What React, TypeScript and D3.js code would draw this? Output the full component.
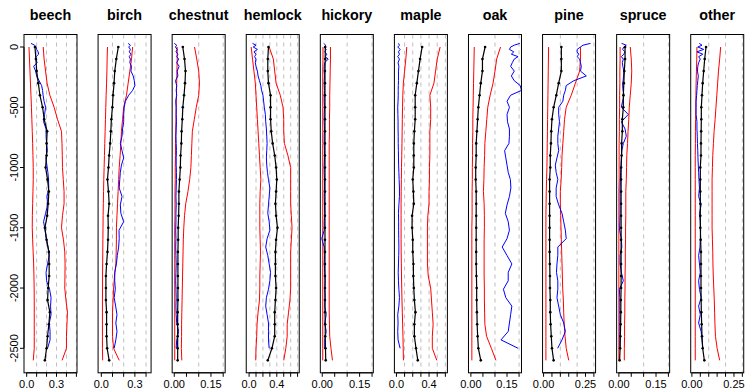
import React from "react";
import * as d3 from "d3";

const taxa = ["beech", "birch", "chestnut", "hemlock", "hickory", "maple", "oak", "pine", "spruce", "other"];

const modelDepths = [0, -100, -200, -300, -400, -500, -600, -700, -800, -900, -1000, -1100, -1200, -1300, -1400, -1500, -1600, -1700, -1800, -1900, -2000, -2100, -2200, -2300, -2400, -2500, -2600];
const obsDepths = [30, 15, 0, -20, -40, -60, -80, -100, -130, -160, -200, -240, -280, -320, -360, -400, -450, -500, -560, -620, -680, -740, -800, -860, -920, -980, -1040, -1100, -1170, -1240, -1310, -1380, -1450, -1520, -1590, -1660, -1730, -1800, -1870, -1940, -2010, -2080, -2150, -2220, -2290, -2360, -2430, -2500];
const yTicks = [0, -500, -1000, -1500, -2000, -2500];

const xDomains = [[-0.027, 0.506], [-0.029, 0.445], [-0.0085, 0.208], [-0.041, 0.724], [-0.0077, 0.205], [-0.025, 0.625], [-0.01, 0.21], [-0.006, 0.31], [-0.009, 0.205], [-0.007, 0.308]];
const xTicks = [
  [0, 0.1, 0.2, 0.3, 0.4, 0.5],
  [0, 0.1, 0.2, 0.3, 0.4],
  [0, 0.05, 0.1, 0.15, 0.2],
  [0, 0.1, 0.2, 0.3, 0.4, 0.5, 0.6, 0.7],
  [0, 0.05, 0.1, 0.15, 0.2],
  [0, 0.1, 0.2, 0.3, 0.4, 0.5, 0.6],
  [0, 0.05, 0.1, 0.15, 0.2],
  [0, 0.05, 0.1, 0.15, 0.2, 0.25, 0.3],
  [0, 0.05, 0.1, 0.15, 0.2],
  [0, 0.05, 0.1, 0.15, 0.2, 0.25, 0.3],
];
const xLabelTicks = [[0, 0.3], [0, 0.3], [0, 0.15], [0, 0.4], [0, 0.15], [0, 0.4], [0, 0.15], [0, 0.25], [0, 0.15], [0, 0.25]];
const xLabelDigits = [1, 1, 2, 1, 2, 1, 2, 2, 2, 2];
const gridValues = [0.1, 0.2, 0.3, 0.4, 0.5, 0.6, 0.7];

// posterior mean (black), every 100 units of depth
const meanBeech = [0.083, 0.093, 0.1, 0.117, 0.133, 0.16, 0.176, 0.206, 0.2, 0.2, 0.19, 0.21, 0.223, 0.216, 0.206, 0.183, 0.2, 0.223, 0.226, 0.226, 0.216, 0.21, 0.233, 0.223, 0.21, 0.2, 0.183];
const meanBirch = [0.152, 0.134, 0.12, 0.114, 0.105, 0.099, 0.09, 0.085, 0.079, 0.07, 0.064, 0.055, 0.064, 0.07, 0.06, 0.062, 0.06, 0.055, 0.047, 0.041, 0.041, 0.041, 0.047, 0.047, 0.047, 0.052, 0.07];
const meanChestnut = [0.035, 0.042, 0.046, 0.044, 0.04, 0.035, 0.033, 0.03, 0.029, 0.026, 0.025, 0.022, 0.019, 0.019, 0.018, 0.016, 0.016, 0.015, 0.015, 0.015, 0.015, 0.015, 0.014, 0.014, 0.014, 0.014, 0.014];
const meanHemlock = [0.28, 0.27, 0.27, 0.28, 0.31, 0.31, 0.31, 0.32, 0.34, 0.37, 0.39, 0.4, 0.39, 0.38, 0.39, 0.41, 0.39, 0.38, 0.38, 0.38, 0.39, 0.38, 0.37, 0.37, 0.37, 0.33, 0.27];
const meanHickory = [0.012, 0.012, 0.011, 0.011, 0.011, 0.011, 0.011, 0.011, 0.011, 0.011, 0.011, 0.011, 0.011, 0.011, 0.011, 0.011, 0.011, 0.011, 0.011, 0.011, 0.011, 0.011, 0.011, 0.012, 0.012, 0.013, 0.014];
const meanMaple = [0.315, 0.29, 0.27, 0.25, 0.23, 0.23, 0.23, 0.22, 0.213, 0.213, 0.213, 0.2, 0.208, 0.213, 0.192, 0.192, 0.2, 0.2, 0.208, 0.208, 0.213, 0.22, 0.233, 0.22, 0.22, 0.24, 0.262];
const meanOak = [0.059, 0.048, 0.048, 0.041, 0.036, 0.031, 0.028, 0.025, 0.022, 0.022, 0.02, 0.02, 0.022, 0.022, 0.022, 0.022, 0.022, 0.022, 0.022, 0.023, 0.024, 0.024, 0.025, 0.026, 0.028, 0.031, 0.041];
const meanPine = [0.106, 0.106, 0.106, 0.09, 0.076, 0.06, 0.05, 0.046, 0.044, 0.04, 0.04, 0.036, 0.036, 0.036, 0.036, 0.036, 0.036, 0.036, 0.037, 0.038, 0.038, 0.04, 0.04, 0.042, 0.046, 0.05, 0.06];
const meanSpruce = [0.025, 0.025, 0.022, 0.02, 0.018, 0.018, 0.014, 0.014, 0.011, 0.011, 0.009, 0.009, 0.009, 0.009, 0.009, 0.009, 0.009, 0.009, 0.009, 0.009, 0.009, 0.008, 0.008, 0.007, 0.006, 0.005, 0.003];
const meanOther = [0.084, 0.076, 0.07, 0.064, 0.06, 0.056, 0.056, 0.055, 0.054, 0.054, 0.05, 0.05, 0.05, 0.05, 0.05, 0.05, 0.052, 0.054, 0.054, 0.054, 0.054, 0.055, 0.056, 0.058, 0.06, 0.064, 0.074];

// lower band (red)
const lowBeech = [0.023, 0.028, 0.033, 0.038, 0.043, 0.048, 0.052, 0.056, 0.06, 0.063, 0.066, 0.066, 0.063, 0.06, 0.057, 0.056, 0.06, 0.065, 0.07, 0.073, 0.075, 0.076, 0.076, 0.076, 0.076, 0.076, 0.066];
const lowBirch = [0.055, 0.052, 0.05, 0.047, 0.043, 0.04, 0.037, 0.034, 0.031, 0.028, 0.025, 0.022, 0.02, 0.018, 0.016, 0.015, 0.014, 0.013, 0.012, 0.011, 0.011, 0.01, 0.01, 0.01, 0.01, 0.01, 0.012];
const lowChestnut = [0.012, 0.012, 0.011, 0.01, 0.009, 0.008, 0.007, 0.006, 0.005, 0.005, 0.004, 0.004, 0.003, 0.003, 0.003, 0.002, 0.002, 0.002, 0.002, 0.002, 0.002, 0.002, 0.002, 0.002, 0.002, 0.002, 0.002];
const lowHemlock = [0.03, 0.05, 0.07, 0.09, 0.1, 0.11, 0.12, 0.13, 0.14, 0.15, 0.16, 0.17, 0.16, 0.155, 0.155, 0.155, 0.16, 0.165, 0.16, 0.155, 0.155, 0.15, 0.13, 0.115, 0.11, 0.1, 0.096];
const lowHickory = [0.003, 0.003, 0.002, 0.002, 0.002, 0.002, 0.002, 0.002, 0.002, 0.002, 0.002, 0.002, 0.002, 0.002, 0.002, 0.002, 0.002, 0.002, 0.002, 0.002, 0.002, 0.002, 0.002, 0.002, 0.002, 0.002, 0.002];
const lowMaple = [0.127, 0.115, 0.1, 0.085, 0.078, 0.075, 0.072, 0.07, 0.068, 0.065, 0.062, 0.06, 0.058, 0.057, 0.057, 0.057, 0.057, 0.058, 0.06, 0.062, 0.065, 0.068, 0.072, 0.076, 0.08, 0.083, 0.086];
const lowOak = [0.014, 0.013, 0.012, 0.011, 0.01, 0.009, 0.008, 0.008, 0.007, 0.007, 0.006, 0.006, 0.005, 0.005, 0.005, 0.004, 0.004, 0.004, 0.004, 0.004, 0.004, 0.004, 0.004, 0.004, 0.004, 0.004, 0.004];
const lowPine = [0.03, 0.029, 0.028, 0.027, 0.026, 0.025, 0.024, 0.023, 0.022, 0.021, 0.02, 0.018, 0.016, 0.015, 0.014, 0.014, 0.014, 0.014, 0.014, 0.014, 0.014, 0.014, 0.014, 0.014, 0.014, 0.014, 0.014];
const lowSpruce = [0.005, 0.005, 0.004, 0.004, 0.003, 0.003, 0.002, 0.002, 0.001, 0.001, 0.001, 0.001, 0.0, 0.0, 0.0, 0.0, 0.0, 0.0, 0.0, 0.0, 0.0, 0.0, 0.0, 0.0, 0.0, 0.0, 0.0];
const lowOther = [0.03, 0.029, 0.027, 0.025, 0.024, 0.023, 0.022, 0.021, 0.021, 0.02, 0.02, 0.02, 0.02, 0.02, 0.02, 0.02, 0.02, 0.02, 0.02, 0.02, 0.02, 0.02, 0.02, 0.02, 0.02, 0.02, 0.02];

// upper band (red)
const highBeech = [0.166, 0.175, 0.19, 0.205, 0.233, 0.276, 0.31, 0.35, 0.355, 0.358, 0.36, 0.368, 0.376, 0.376, 0.36, 0.35, 0.37, 0.383, 0.386, 0.385, 0.383, 0.395, 0.41, 0.405, 0.4, 0.4, 0.356];
const highBirch = [0.28, 0.27, 0.255, 0.24, 0.225, 0.2, 0.19, 0.18, 0.175, 0.168, 0.16, 0.155, 0.15, 0.145, 0.14, 0.135, 0.135, 0.133, 0.13, 0.118, 0.11, 0.105, 0.1, 0.1, 0.1, 0.11, 0.16];
const highChestnut = [0.083, 0.092, 0.1, 0.103, 0.1, 0.09, 0.082, 0.074, 0.072, 0.07, 0.068, 0.063, 0.056, 0.047, 0.042, 0.039, 0.037, 0.036, 0.035, 0.034, 0.033, 0.032, 0.031, 0.03, 0.03, 0.029, 0.031];
const highHemlock = [0.29, 0.35, 0.37, 0.39, 0.45, 0.49, 0.5, 0.5, 0.51, 0.56, 0.6, 0.6, 0.6, 0.6, 0.61, 0.62, 0.61, 0.6, 0.6, 0.6, 0.6, 0.59, 0.57, 0.55, 0.55, 0.53, 0.5];
const highHickory = [0.033, 0.033, 0.032, 0.031, 0.03, 0.03, 0.029, 0.029, 0.028, 0.028, 0.028, 0.028, 0.028, 0.028, 0.028, 0.028, 0.028, 0.028, 0.028, 0.028, 0.028, 0.028, 0.028, 0.029, 0.03, 0.035, 0.041];
const highMaple = [0.536, 0.5, 0.48, 0.46, 0.41, 0.42, 0.42, 0.41, 0.41, 0.41, 0.405, 0.405, 0.4, 0.4, 0.385, 0.38, 0.38, 0.38, 0.38, 0.39, 0.42, 0.43, 0.44, 0.45, 0.44, 0.44, 0.495];
const highOak = [0.123, 0.107, 0.1, 0.092, 0.08, 0.07, 0.066, 0.062, 0.058, 0.057, 0.055, 0.054, 0.052, 0.055, 0.056, 0.056, 0.055, 0.055, 0.055, 0.055, 0.056, 0.056, 0.057, 0.058, 0.065, 0.085, 0.104];
const highPine = [0.22, 0.22, 0.215, 0.19, 0.165, 0.135, 0.125, 0.12, 0.115, 0.11, 0.108, 0.105, 0.1, 0.1, 0.102, 0.104, 0.106, 0.108, 0.11, 0.112, 0.114, 0.118, 0.12, 0.123, 0.128, 0.135, 0.15];
const highSpruce = [0.046, 0.05, 0.052, 0.05, 0.046, 0.042, 0.04, 0.037, 0.035, 0.032, 0.031, 0.03, 0.028, 0.028, 0.028, 0.027, 0.027, 0.026, 0.026, 0.025, 0.025, 0.024, 0.024, 0.023, 0.023, 0.022, 0.022];
const highOther = [0.171, 0.165, 0.158, 0.153, 0.148, 0.143, 0.138, 0.132, 0.128, 0.124, 0.122, 0.12, 0.12, 0.12, 0.12, 0.12, 0.122, 0.124, 0.125, 0.127, 0.13, 0.133, 0.135, 0.137, 0.14, 0.15, 0.165];

// observed proportions (blue)
const obsBeech = [0.043, 0.08, 0.095, 0.1, 0.115, 0.12, 0.095, 0.09, 0.105, 0.07, 0.09, 0.1, 0.125, 0.15, 0.16, 0.165, 0.175, 0.19, 0.18, 0.17, 0.195, 0.195, 0.2, 0.208, 0.193, 0.203, 0.213, 0.22, 0.222, 0.205, 0.21, 0.19, 0.17, 0.185, 0.197, 0.215, 0.228, 0.21, 0.195, 0.2, 0.23, 0.245, 0.24, 0.245, 0.228, 0.235, 0.235, 0.21];
const obsBirch = [0.24, 0.26, 0.245, 0.26, 0.25, 0.265, 0.25, 0.26, 0.255, 0.27, 0.265, 0.285, 0.295, 0.3, 0.28, 0.245, 0.215, 0.205, 0.2, 0.2, 0.19, 0.185, 0.17, 0.185, 0.2, 0.18, 0.17, 0.165, 0.16, 0.185, 0.17, 0.175, 0.2, 0.158, 0.16, 0.155, 0.143, 0.135, 0.12, 0.12, 0.125, 0.115, 0.128, 0.14, 0.13, 0.14, 0.13, 0.115];
const obsChestnut = [0.0, 0.01, 0.005, 0.012, 0.007, 0.015, 0.01, 0.018, 0.01, 0.02, 0.012, 0.015, 0.005, 0.01, 0.008, 0.01, 0.006, 0.008, 0.008, 0.009, 0.008, 0.007, 0.008, 0.009, 0.008, 0.008, 0.009, 0.009, 0.008, 0.007, 0.008, 0.007, 0.007, 0.006, 0.007, 0.006, 0.007, 0.008, 0.007, 0.006, 0.007, 0.008, 0.007, 0.008, 0.01, 0.018, 0.01, 0.008];
const obsHemlock = [0.05, 0.1, 0.06, 0.12, 0.07, 0.1, 0.08, 0.1, 0.09, 0.1, 0.12, 0.13, 0.15, 0.17, 0.18, 0.2, 0.21, 0.22, 0.235, 0.24, 0.25, 0.255, 0.26, 0.255, 0.25, 0.255, 0.265, 0.28, 0.3, 0.29, 0.28, 0.27, 0.29, 0.3, 0.26, 0.24, 0.27, 0.29, 0.31, 0.3, 0.28, 0.25, 0.24, 0.26, 0.28, 0.28, 0.28, 0.29];
const obsHickory = [0.006, 0.014, 0.008, 0.016, 0.01, 0.018, 0.012, 0.024, 0.01, 0.008, 0.008, 0.009, 0.008, 0.008, 0.009, 0.008, 0.008, 0.009, 0.008, 0.008, 0.009, 0.008, 0.008, 0.009, 0.009, 0.008, 0.008, 0.009, 0.009, 0.008, 0.009, 0.01, 0.008, 0.008, -0.002, 0.008, 0.009, 0.008, 0.01, 0.012, 0.01, 0.012, 0.01, 0.016, 0.01, 0.016, 0.01, 0.01];
const obsMaple = [0.025, 0.037, 0.016, 0.045, 0.025, 0.037, 0.016, 0.037, 0.02, 0.03, 0.025, 0.025, 0.025, 0.023, 0.022, 0.022, 0.02, 0.016, 0.018, 0.02, 0.02, 0.022, 0.022, 0.024, 0.025, 0.027, 0.03, 0.033, 0.037, 0.037, 0.03, 0.025, 0.027, 0.027, 0.028, 0.03, 0.028, 0.025, 0.022, 0.025, 0.03, 0.037, 0.03, 0.016, 0.02, 0.016, 0.02, 0.045];
const obsOak = [0.203, 0.18, 0.165, 0.16, 0.178, 0.168, 0.196, 0.18, 0.172, 0.165, 0.18, 0.168, 0.18, 0.205, 0.21, 0.165, 0.15, 0.16, 0.15, 0.152, 0.16, 0.16, 0.158, 0.14, 0.145, 0.15, 0.155, 0.164, 0.166, 0.16, 0.15, 0.143, 0.155, 0.16, 0.15, 0.13, 0.15, 0.17, 0.155, 0.155, 0.135, 0.145, 0.17, 0.165, 0.16, 0.155, 0.125, 0.196];
const obsPine = [0.28, 0.235, 0.22, 0.2, 0.2, 0.21, 0.2, 0.215, 0.22, 0.225, 0.22, 0.255, 0.18, 0.135, 0.13, 0.12, 0.115, 0.09, 0.09, 0.095, 0.09, 0.085, 0.085, 0.09, 0.08, 0.07, 0.075, 0.085, 0.075, 0.075, 0.09, 0.11, 0.12, 0.13, 0.135, 0.085, 0.085, 0.08, 0.077, 0.085, 0.085, 0.08, 0.09, 0.1, 0.12, 0.13, 0.11, 0.084];
const obsSpruce = [0.011, 0.03, 0.02, 0.015, 0.025, 0.02, 0.01, 0.018, 0.014, 0.016, 0.02, 0.019, 0.017, 0.015, 0.017, 0.021, 0.015, 0.01, 0.038, 0.01, 0.025, 0.03, 0.018, 0.012, 0.01, 0.009, 0.007, 0.006, 0.005, 0.005, 0.005, 0.005, 0.004, 0.003, 0.01, 0.012, 0.005, 0.005, 0.01, 0.018, 0.002, 0.004, 0.004, 0.004, 0.004, 0.004, 0.004, 0.004];
const obsOther = [0.044, 0.06, 0.035, 0.07, 0.03, 0.065, 0.04, 0.05, 0.04, 0.035, 0.033, 0.038, 0.035, 0.032, 0.03, 0.028, 0.025, 0.025, 0.025, 0.03, 0.03, 0.032, 0.033, 0.035, 0.036, 0.038, 0.04, 0.042, 0.045, 0.04, 0.055, 0.045, 0.05, 0.052, 0.05, 0.048, 0.04, 0.045, 0.05, 0.04, 0.045, 0.055, 0.04, 0.05, 0.04, 0.055, 0.06, 0.065];

const means = [meanBeech, meanBirch, meanChestnut, meanHemlock, meanHickory, meanMaple, meanOak, meanPine, meanSpruce, meanOther];
const lows = [lowBeech, lowBirch, lowChestnut, lowHemlock, lowHickory, lowMaple, lowOak, lowPine, lowSpruce, lowOther];
const highs = [highBeech, highBirch, highChestnut, highHemlock, highHickory, highMaple, highOak, highPine, highSpruce, highOther];
const obs = [obsBeech, obsBirch, obsChestnut, obsHemlock, obsHickory, obsMaple, obsOak, obsPine, obsSpruce, obsOther];

const W = 745;
const H = 390;
const panelLeft = 24;
const panelStep = 74.08;
const panelWidth = 53;
const boxTop = 34.5;
const boxBottom = 372.8;
const FONT = "'Liberation Sans', Arial, Helvetica, sans-serif";

export default function App() {
  const y = d3.scaleLinear().domain([0, -2500]).range([47, 348.3]);

  const panels = taxa.map((name, i) => {
    const x0 = panelLeft + i * panelStep;
    const x = d3.scaleLinear().domain(xDomains[i]).range([x0, x0 + panelWidth]);
    const line = d3.line<[number, number]>().x((d) => x(d[1])).y((d) => y(d[0]));
    const meanPts: [number, number][] = modelDepths.map((dp, k) => [dp, means[i][k]]);
    const lowPts: [number, number][] = modelDepths.map((dp, k) => [dp, lows[i][k]]);
    const highPts: [number, number][] = modelDepths.map((dp, k) => [dp, highs[i][k]]);
    const obsPts: [number, number][] = obsDepths.map((dp, k) => [dp, obs[i][k]]);
    const grid = gridValues.filter((g) => g <= xDomains[i][1] + 1e-9);
    const ticks = xTicks[i];
    const fmt = d3.format("." + xLabelDigits[i] + "f");
    return (
      <g key={name}>
        <text x={x0 + panelWidth / 2} y={20} textAnchor="middle" fontFamily={FONT} fontWeight="bold" fontSize={14.3} fill="#000">{name}</text>
        {grid.map((g) => (
          <line key={"g" + g} x1={x(g)} x2={x(g)} y1={boxTop} y2={boxBottom} stroke="#bebebe" strokeWidth={1} strokeDasharray="4,4" />
        ))}
        <path d={line(lowPts) || ""} fill="none" stroke="#ff0000" strokeWidth={1} />
        <path d={line(highPts) || ""} fill="none" stroke="#ff0000" strokeWidth={1} />
        <path d={line(obsPts) || ""} fill="none" stroke="#0000ff" strokeWidth={1} />
        <path d={line(meanPts) || ""} fill="none" stroke="#000" strokeWidth={1.2} />
        {meanPts.map((d, k) => (
          <circle key={"p" + k} cx={x(d[1])} cy={y(d[0])} r={1.3} fill="#000" />
        ))}
        <rect x={x0} y={boxTop} width={panelWidth} height={boxBottom - boxTop} fill="none" stroke="#000" strokeWidth={1} />
        <line x1={x(ticks[0])} x2={x(ticks[ticks.length - 1])} y1={boxBottom} y2={boxBottom} stroke="#000" strokeWidth={1} />
        {ticks.map((t) => (
          <line key={"t" + t} x1={x(t)} x2={x(t)} y1={boxBottom} y2={boxBottom + 4} stroke="#000" strokeWidth={1} />
        ))}
        {xLabelTicks[i].map((t) => (
          <text key={"l" + t} x={x(t)} y={388} textAnchor="middle" fontFamily={FONT} fontSize={11} fill="#000">{fmt(t)}</text>
        ))}
      </g>
    );
  });

  return (
    <svg width={W} height={H} style={{ position: "absolute", left: 0, top: 0, background: "#fff" }}>
      <rect x={0} y={0} width={W} height={H} fill="#fff" />
      {panels}
      <line x1={panelLeft} x2={panelLeft} y1={y(0)} y2={y(-2500)} stroke="#000" strokeWidth={1} />
      {yTicks.map((t) => (
        <g key={"y" + t}>
          <line x1={panelLeft - 4} x2={panelLeft} y1={y(t)} y2={y(t)} stroke="#000" strokeWidth={1} />
          <text transform={`translate(18.3,${y(t)}) rotate(-90)`} textAnchor="middle" fontFamily={FONT} fontSize={11} fill="#000">{t === 0 ? "0" : "-" + Math.abs(t)}</text>
        </g>
      ))}
    </svg>
  );
}
